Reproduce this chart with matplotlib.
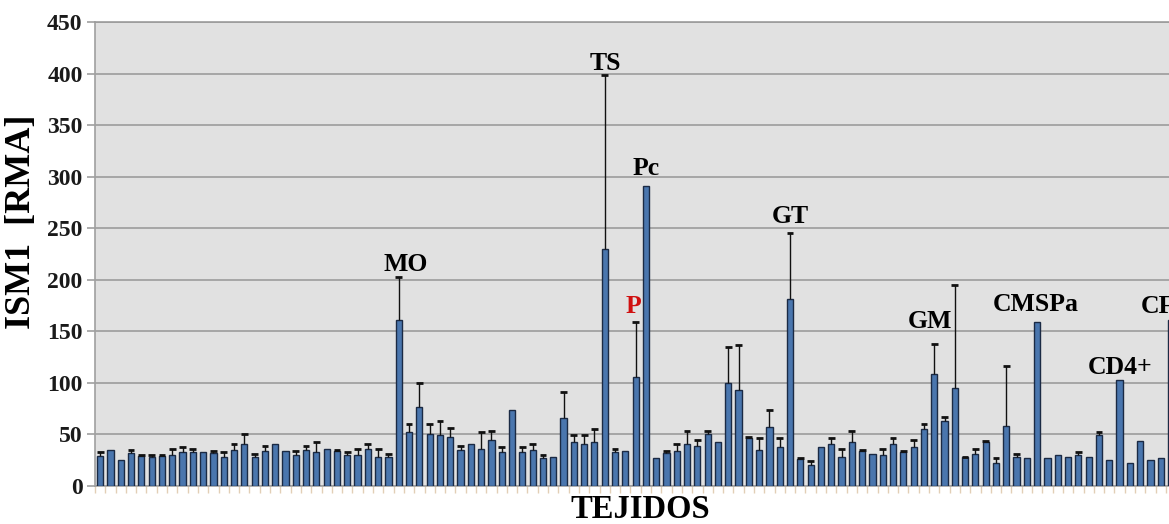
import numpy as np
import matplotlib
matplotlib.use("Agg")
import matplotlib.pyplot as plt
from matplotlib.ticker import MultipleLocator

values = [29, 35, 25, 32, 29, 28, 29, 30, 33, 33,
          33, 32, 28, 35, 41, 28, 34, 41, 34, 30,
          35, 33, 36, 34, 30, 30, 36, 28, 28, 161,
          52, 77, 50, 49, 48, 35, 41, 36, 45, 33,
          74, 33, 35, 27, 28, 66, 43, 41, 43, 230,
          33, 34, 106, 291, 27, 32, 34, 41, 39, 50,
          43, 100, 93, 47, 35, 57, 38, 181, 26, 20,
          38, 41, 28, 43, 34, 31, 30, 41, 33, 38,
          55, 109, 63, 95, 28, 31, 43, 22, 58, 28,
          27, 159, 27, 30, 28, 30, 28, 49, 25, 103,
          22, 44, 25, 27, 161]
errors = [4, 0, 0, 3, 1, 2, 1, 6, 5, 3,
          0, 2, 5, 6, 9, 3, 5, 0, 0, 4,
          4, 10, 0, 0.5, 3, 6, 5, 8, 3, 42,
          8, 23, 10, 14, 8, 4, 0, 16, 8, 5,
          0, 5, 6, 3, 0, 25, 6, 8, 12, 169,
          3, 0, 53, 0, 0, 2, 7, 12, 6, 3,
          0, 35, 44, 0.5, 12, 17, 9, 64, 1, 4,
          0, 6, 8, 10, 1, 0, 6, 6, 0.5, 7,
          5, 29, 4, 100, 0.5, 5, 0.5, 5, 58, 3,
          0, 0, 0, 0, 0, 3, 0, 3, 0, 0,
          0, 0, 0, 0, 0]

labels = ["MO", "TS", "Pc", "P", "GT", "GM", "CMSPa", "CD4+", "CF"]
label_x = [29.7, 49.1, 53.0, 51.8, 67.0, 80.6, 90.9, 99.1, 101.1]
label_y = [215, 410, 308, 174, 261, 160, 176, 115, 174]
label_colors = ["black", "black", "black", "#d01010", "black", "black", "black", "black", "black"]
label_ha = ["center"] * 8 + ["left"]

y_ticks = [0, 50, 100, 150, 200, 250, 300, 350, 400, 450]

serif = ["Liberation Serif", "DejaVu Serif"]

W, H = 1169, 524
fig = plt.figure(figsize=(W / 100, H / 100), dpi=100)
left_px, right_px, top_px, bot_px = 95.0, 1169, 22, 486
ax = fig.add_axes([left_px / W, (H - bot_px) / H, (right_px - left_px) / W, (bot_px - top_px) / H])
ax.set_facecolor("#e1e1e1")

x = np.arange(len(values))
vals = np.array(values, dtype=float)
errs = np.array(errors, dtype=float)

ax.bar(x, vals, width=0.6, color="#4a76ae", edgecolor="#1b2a44", linewidth=1.0, zorder=3)
mask = errs > 0
tops = vals[mask] + errs[mask]
ax.vlines(x[mask], vals[mask], tops, color="#111111", linewidth=1.0, zorder=4)
ax.hlines(tops, x[mask] - 0.33, x[mask] + 0.33, color="#111111", linewidth=2.0, zorder=4)

ax.set_ylim(0, 450)
ax.set_xlim(-0.5, (right_px - left_px) / 10.297 - 0.5)
ax.set_yticks(y_ticks)
ax.yaxis.grid(True, color="#9c9c9c", linewidth=1.2, zorder=0)
ax.set_axisbelow(True)

ax.spines["right"].set_visible(False)
ax.spines["top"].set_color("#9c9c9c")
ax.spines["top"].set_linewidth(1.2)
ax.spines["left"].set_color("#a0a0a0")
ax.spines["left"].set_linewidth(1.2)
ax.spines["bottom"].set_color("#a0a0a0")
ax.spines["bottom"].set_linewidth(1.2)

ax.set_xticks([])
ax.xaxis.set_minor_locator(MultipleLocator(1, offset=0.5))
ax.tick_params(axis="x", which="minor", length=5, color="#e2cfb6", width=1, direction="out")
ax.tick_params(axis="y", length=6, color="#a0a0a0", width=1.2, pad=3)
for t in ax.get_yticklabels():
    t.set_fontfamily(serif)
    t.set_fontweight("bold")
    t.set_fontsize(17)
    t.set_color("#1a1a1a")

ax.set_ylabel("ISM1  [RMA]", fontfamily=serif, fontweight="bold", fontsize=26)
ax.yaxis.set_label_coords((38 - left_px) / (right_px - left_px), (486 - 222) / 464)
fig.text(640 / W, 1 - 510 / H, "TEJIDOS", fontfamily=serif, fontweight="bold", fontsize=23.5,
         ha="center", va="center")

for lab, lx, ly, lc, lha in zip(labels, label_x, label_y, label_colors, label_ha):
    ax.text(lx, ly, lab, fontfamily=serif, fontweight="bold", fontsize=18.5,
            color=lc, ha=lha, va="center", zorder=5, clip_on=False)

fig.savefig("out.png", dpi=100)
